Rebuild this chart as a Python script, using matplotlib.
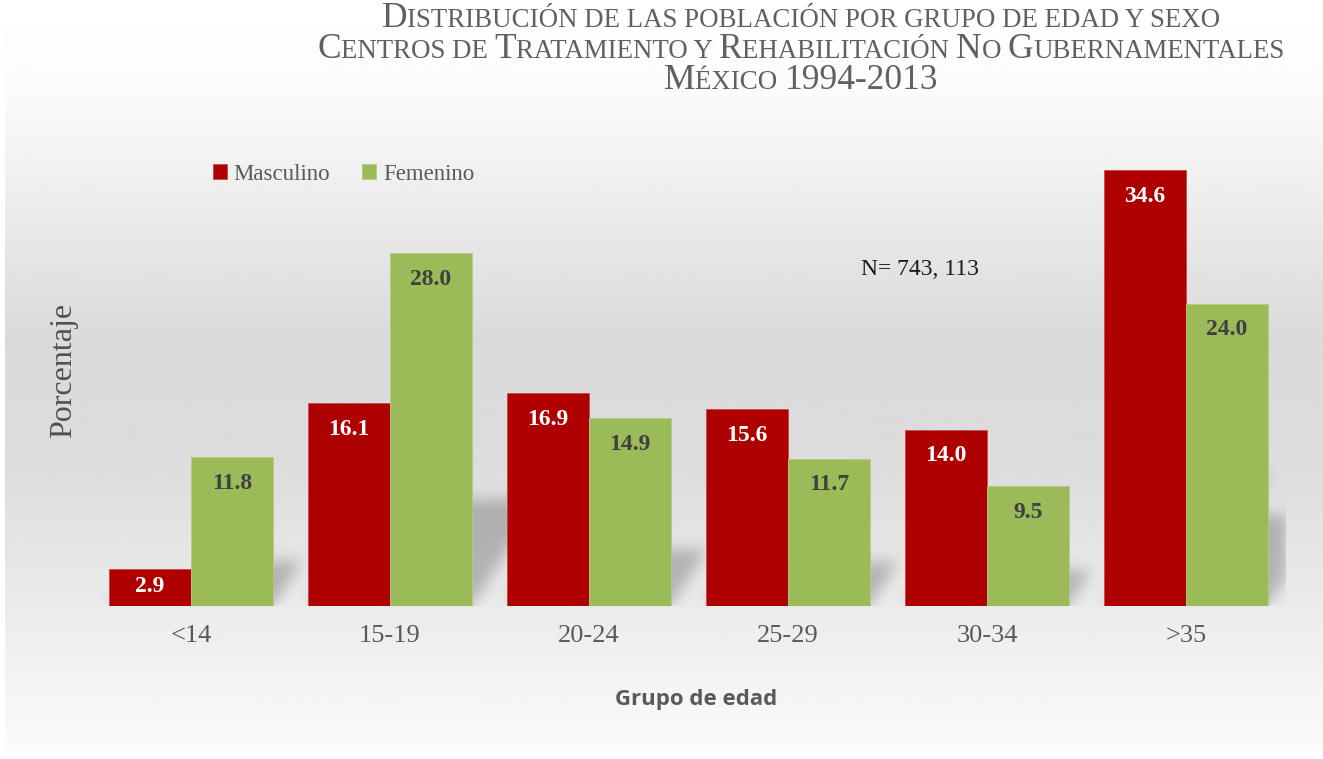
import matplotlib
matplotlib.use("Agg")
import matplotlib.pyplot as plt
import numpy as np

# data
grupos = ["<14", "15-19", "20-24", "25-29", "30-34", ">35"]
masculino = [2.9, 16.1, 16.9, 15.6, 14.0, 34.6]
femenino = [11.8, 28.0, 14.9, 11.7, 9.5, 24.0]
series_names = ["Masculino", "Femenino"]
titulo = ["Distribución de las población por grupo de edad y sexo",
          "Centros de Tratamiento y Rehabilitación No Gubernamentales",
          "México 1994-2013"]
nota = "N= 743, 113"

RED = "#AE0000"
GREEN = "#9BBB59"
GRAY = "#595959"
SERIF = "Liberation Serif"

W, H = 1323, 759
fig = plt.figure(figsize=(W / 100, H / 100), dpi=100)
fig.patch.set_facecolor("white")

# gradient background (white - gray - white)
bg = fig.add_axes([5 / W, 7 / H, 1 - 5 / W, 1 - 7 / H], zorder=-10)
yy = np.linspace(0, 1, 400)  # 0 = top
stops_y = [0.0, 0.12, 0.25, 0.45, 0.62, 0.8, 1.0]
stops_v = [1.0, 0.985, 0.935, 0.855, 0.865, 0.92, 0.985]
vals = np.interp(yy, stops_y, stops_v)
bg.imshow(vals[:, None], aspect="auto", cmap="gray", vmin=0, vmax=1,
          extent=[0, 1, 0, 1], origin="upper", interpolation="bicubic")
bg.axis("off")

ax = fig.add_axes([91.5 / W, (H - 606) / H, (1285.5 - 91.5) / W, (606 - 102) / H])
ax.patch.set_visible(False)
ax.set_xlim(-0.5, len(grupos) - 0.5)
ax.set_ylim(0, 40)
for s in ax.spines.values():
    s.set_visible(False)
ax.set_yticks([])

x = np.arange(len(grupos))
bw = 0.412
bars_m = ax.bar(x - bw / 2, masculino, bw, color=RED, edgecolor="#C84848",
                linewidth=0.6, zorder=3, label=series_names[0])
bars_f = ax.bar(x + bw / 2, femenino, bw, color=GREEN, edgecolor="#B2CC84",
                linewidth=0.6, zorder=3, label=series_names[1])

# soft perspective shadows: rasterise a skewed copy of each bar, then blur
nx, ny = 1200, 500
x_lo, x_hi = -0.5, len(grupos) - 0.5
y_lo, y_hi = -1.0, 40.0
gx = np.linspace(x_lo, x_hi, nx)
gy = np.linspace(y_lo, y_hi, ny)
X, Y = np.meshgrid(gx, gy)
mask = np.zeros((ny, nx))
for bars in (bars_m, bars_f):
    for b in bars:
        x0, x1, h = b.get_x(), b.get_x() + b.get_width(), b.get_height()
        top = 0.30 * h
        shift = 0.012 * h * np.clip(Y / top, 0, 1)
        inside = (Y >= 0) & (Y <= top) & (X >= x0 + shift) & (X <= x1 + shift)
        mask = np.maximum(mask, inside.astype(float))

def blur(a, sig, axis):
    r = int(3 * sig)
    k = np.exp(-0.5 * (np.arange(-r, r + 1) / sig) ** 2)
    k /= k.sum()
    return np.apply_along_axis(lambda v: np.convolve(v, k, mode="same"), axis, a)

mask = blur(blur(mask, 7, 1), 7, 0)
rgba = np.zeros((ny, nx, 4))
rgba[..., :3] = 0.3
rgba[..., 3] = mask * 0.34
ax.imshow(rgba, extent=[x_lo, x_hi, y_lo, y_hi], origin="lower",
          aspect="auto", zorder=1, interpolation="bilinear")
ax.set_xlim(x_lo, x_hi)
ax.set_ylim(0, 40)

# data labels
def label_bars(bars, color):
    for b in bars:
        h = b.get_height()
        cx = b.get_x() + b.get_width() / 2
        if h < 3.5:
            ax.text(cx, h / 2 + 0.1, f"{h:.1f}", ha="center", va="center",
                    color=color, fontsize=17, fontweight="bold", family=SERIF,
                    zorder=5)
        else:
            ax.annotate(f"{h:.1f}", (cx, h), xytext=(0, -19),
                        textcoords="offset points", ha="center", va="center",
                        color=color, fontsize=17, fontweight="bold",
                        family=SERIF, zorder=5)

label_bars(bars_m, "white")
label_bars(bars_f, "#404040")

ax.set_xticks(x)
ax.set_xticklabels(grupos, family=SERIF, fontsize=19, color=GRAY)
ax.tick_params(axis="x", length=0, pad=14)

fig.text(696 / W, 1 - 700 / H, "Grupo de edad", ha="center", va="center",
         family="Open Sans", fontweight="bold", fontsize=16, color=GRAY)
fig.text(64 / W, 1 - 370 / H, "Porcentaje", ha="center", va="center",
         rotation=90, family=SERIF, fontsize=23, color="#505050")
fig.text(920 / W, 1 - 270 / H, nota, ha="center", va="center",
         family=SERIF, fontsize=17, color="#1a1a1a")

leg = ax.legend(loc="center left", bbox_to_anchor=(213 / W, 1 - 174 / H),
                bbox_transform=fig.transFigure, ncol=2, frameon=False,
                prop={"family": SERIF, "size": 16.5}, handlelength=0.6,
                handleheight=0.6, handletextpad=0.3, columnspacing=1.4,
                borderaxespad=0, borderpad=0)
for t in leg.get_texts():
    t.set_color(GRAY)

# small-caps title built from text runs
renderer = fig.canvas.get_renderer()

def small_caps_line(text, xc, ybase, size, color, ratio=0.76):
    runs = []
    cur, cur_low = "", None
    for ch in text:
        low = ch.islower()
        if ch == " ":
            low = cur_low if cur_low is not None else False
        if cur_low is None or low == cur_low:
            cur += ch
            cur_low = low
        else:
            runs.append((cur, cur_low))
            cur, cur_low = ch, low
    runs.append((cur, cur_low))
    objs = []
    for s, low in runs:
        t = fig.text(0, ybase, s.upper(), family=SERIF, color=color,
                     fontsize=size * ratio if low else size,
                     ha="left", va="baseline")
        objs.append(t)
    widths = []
    for t in objs:
        sz = t.get_fontsize()
        # measure with sentinels so trailing/leading spaces count
        probe = fig.text(0, 0, "|" + t.get_text() + "|", family=SERIF, fontsize=sz)
        bar_probe = fig.text(0, 0, "||", family=SERIF, fontsize=sz)
        wdt = (probe.get_window_extent(renderer).width
               - bar_probe.get_window_extent(renderer).width)
        probe.remove()
        bar_probe.remove()
        widths.append(wdt)
    total = sum(widths)
    xpos = xc * W - total / 2
    for t, wdt in zip(objs, widths):
        t.set_x(xpos / W)
        xpos += wdt

title_size = 25.5
for i, line in enumerate(titulo):
    small_caps_line(line, 801 / W, 1 - (27 + 31 * i) / H, title_size, "#606060")

fig.savefig("out.png", dpi=100)
